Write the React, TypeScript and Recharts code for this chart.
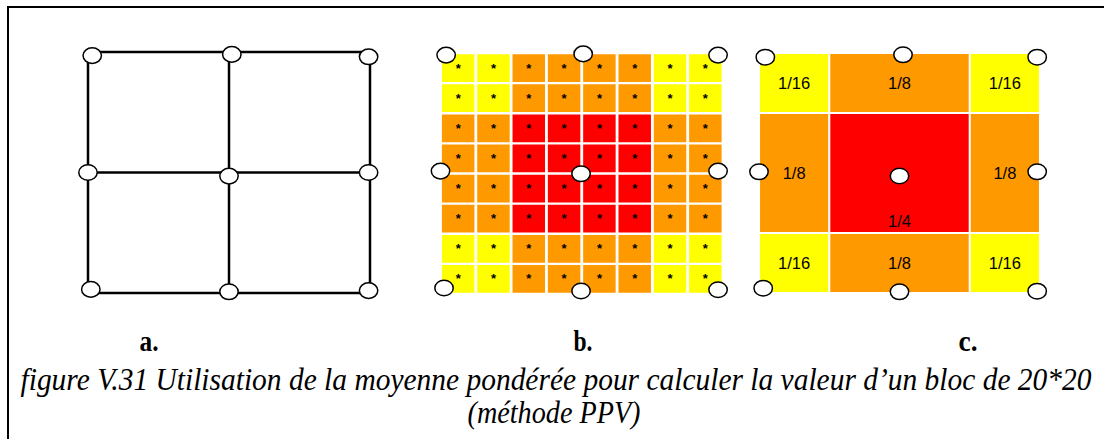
import React from 'react'
import { ScatterChart, Scatter, XAxis, YAxis, ReferenceArea, ReferenceLine } from 'recharts'

// panel a: 2x2 blocks, grid lines and nodes (node positions)
const gridA = [0, 1, 2]
const nodesA = [
  { x: 0.03, y: 0.03 }, { x: 1.02, y: 0.02 }, { x: 1.99, y: 0.04 },
  { x: 0, y: 1.0 }, { x: 1.0, y: 1.03 }, { x: 1.99, y: 1.0 },
  { x: 0.02, y: 1.97 }, { x: 1.0, y: 1.99 }, { x: 1.99, y: 1.98 },
]

// panel b: 8x8 pixels, denominator of the weight of each pixel
const weightsB = [
  [16, 16, 8, 8, 8, 8, 16, 16],
  [16, 16, 8, 8, 8, 8, 16, 16],
  [8, 8, 4, 4, 4, 4, 8, 8],
  [8, 8, 4, 4, 4, 4, 8, 8],
  [8, 8, 4, 4, 4, 4, 8, 8],
  [8, 8, 4, 4, 4, 4, 8, 8],
  [16, 16, 8, 8, 8, 8, 16, 16],
  [16, 16, 8, 8, 8, 8, 16, 16],
]
const nodesB = [
  { x: 0.16, y: 0.07 }, { x: 4.04, y: 0.03 }, { x: 7.86, y: 0.07 },
  { x: 0, y: 3.92 }, { x: 3.98, y: 4.01 }, { x: 7.86, y: 3.92 },
  { x: 0.1, y: 7.8 }, { x: 3.98, y: 7.9 }, { x: 7.86, y: 7.86 },
]

// panel c: 3x3 zones (bands are 1:2:1)
const bandsC = [[0, 1], [1, 3], [3, 4]]
const labelsC = [
  ['1/16', '1/8', '1/16'],
  ['1/8', '1/4', '1/8'],
  ['1/16', '1/8', '1/16'],
]
const nodesC = [
  { x: 0.09, y: 0.07 }, { x: 2.05, y: 0.03 }, { x: 3.96, y: 0.07 },
  { x: 0, y: 1.98 }, { x: 2.0, y: 2.05 }, { x: 3.96, y: 1.98 },
  { x: 0.06, y: 3.92 }, { x: 2.0, y: 3.98 }, { x: 3.96, y: 3.97 },
]

const panelNames = ['a.', 'b.', 'c.']
const caption = [
  'figure V.31 Utilisation de la moyenne pondérée pour calculer la valeur d’un bloc de 20*20',
  '(méthode PPV)',
]

const weightColor: Record<number, string> = { 16: '#FFFF00', 8: '#FF9900', 4: '#FF0000' }

const cellsB = weightsB.flatMap((row, r) => row.map((w, c) => ({ x: c + 0.5, y: r + 0.5, col: c, row: r, w })))

const Node = (p: any) => (
  <ellipse cx={p.cx} cy={p.cy} rx={9.2} ry={7.8} fill="#fff" stroke="#000" strokeWidth={1.5} />
)

const Star = (p: any) => (
  <text x={p.cx} y={p.cy + 4.5} textAnchor="middle" fontSize={13} fontWeight="bold" fontFamily="Liberation Sans, Arial" fill="#000">
    *
  </text>
)

const serif = '"Liberation Serif", "Times New Roman", serif'

export default function App() {
  return (
    <div style={{ position: 'absolute', left: 0, top: 0, width: 1104, height: 439, background: '#fff', overflow: 'hidden' }}>
      <div
        style={{
          position: 'absolute', left: 7, top: 6, width: 1097, height: 433,
          borderTop: '2px solid #000', borderLeft: '2px solid #000',
        }}
      />

      {/* a. */}
      <div style={{ position: 'absolute', left: 68, top: 32 }}>
        <ScatterChart width={322} height={281} margin={{ top: 20, right: 20, bottom: 20, left: 20 }}>
          <XAxis type="number" dataKey="x" domain={[0, 2]} hide />
          <YAxis type="number" dataKey="y" domain={[0, 2]} reversed hide />
          {gridA.map((v) => (
            <ReferenceLine key={'x' + v} x={v} stroke="#000" strokeWidth={2.5} />
          ))}
          {gridA.map((v) => (
            <ReferenceLine key={'y' + v} y={v} stroke="#000" strokeWidth={2.5} />
          ))}
          <Scatter data={nodesA} shape={Node} isAnimationActive={false} />
        </ScatterChart>
      </div>

      {/* b. */}
      <div style={{ position: 'absolute', left: 420, top: 33 }}>
        <ScatterChart width={324} height={281} margin={{ top: 20, right: 21, bottom: 20, left: 20.5 }}>
          <XAxis type="number" dataKey="x" domain={[0, 8]} hide />
          <YAxis type="number" dataKey="y" domain={[0, 8]} reversed hide />
          {cellsB.map((c) => (
            <ReferenceArea
              key={c.row + '-' + c.col}
              x1={c.col + 0.04}
              x2={c.col + 0.96}
              y1={c.row + 0.04}
              y2={c.row + 0.96}
              fill={weightColor[c.w]}
              fillOpacity={1}
              stroke="none"
            />
          ))}
          <Scatter data={cellsB} shape={Star} isAnimationActive={false} />
          <Scatter data={nodesB} shape={Node} isAnimationActive={false} />
        </ScatterChart>
      </div>

      {/* c. */}
      <div style={{ position: 'absolute', left: 739, top: 33 }}>
        <ScatterChart width={321} height={280} margin={{ top: 20, right: 20, bottom: 20, left: 20 }}>
          <XAxis type="number" dataKey="x" domain={[0, 4]} hide />
          <YAxis type="number" dataKey="y" domain={[0, 4]} reversed hide />
          {labelsC.map((row, r) =>
            row.map((lab, c) => (
              <ReferenceArea
                key={r + '-' + c}
                x1={bandsC[c][0] + 0.015}
                x2={bandsC[c][1] - 0.015}
                y1={bandsC[r][0] + 0.017}
                y2={bandsC[r][1] - 0.017}
                fill={weightColor[Number(lab.split('/')[1])]}
                fillOpacity={1}
                stroke="none"
                label={{
                  value: lab,
                  position: lab === '1/4' ? 'insideBottom' : 'center',
                  fill: '#000',
                  fontSize: 16.5,
                  fontFamily: 'Liberation Sans, Arial',
                }}
              />
            ))
          )}
          <Scatter data={nodesC} shape={Node} isAnimationActive={false} />
        </ScatterChart>
      </div>

      <svg width={1104} height={439} style={{ position: 'absolute', left: 0, top: 0, pointerEvents: 'none' }}>
        {panelNames.map((n, i) => (
          <text key={n} x={[149, 583, 968][i]} y={351} textAnchor="middle" fontFamily={serif} fontWeight="bold" fontSize={29} textLength={19} lengthAdjust="spacingAndGlyphs">
            {n}
          </text>
        ))}
        <g transform="translate(556,390) scale(1,1.1)">
          <text x={0} y={0} textAnchor="middle" fontFamily={serif} fontStyle="italic" fontSize={28} textLength={1071} lengthAdjust="spacingAndGlyphs">
            {caption[0]}
          </text>
        </g>
        <g transform="translate(554,423) scale(1,1.1)">
          <text x={0} y={0} textAnchor="middle" fontFamily={serif} fontStyle="italic" fontSize={28} textLength={173} lengthAdjust="spacingAndGlyphs">
            {caption[1]}
          </text>
        </g>
      </svg>
    </div>
  )
}
